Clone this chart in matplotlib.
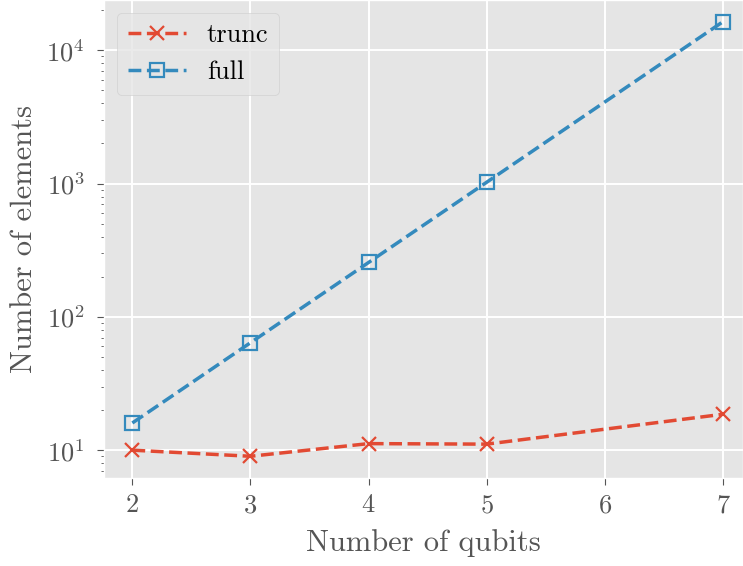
import matplotlib
matplotlib.use("Agg")
import matplotlib.pyplot as plt

qubits_trunc = [2, 3, 4, 5, 7]
elements_trunc = [10, 9, 11.2, 11.1, 18.6]
qubits_full = [2, 3, 4, 5, 7]
elements_full = [16, 64, 256, 1024, 16384]

plt.style.use("ggplot")
plt.rcParams["font.family"] = ["cmr10", "DejaVu Serif"]
plt.rcParams["mathtext.fontset"] = "cm"
plt.rcParams["axes.formatter.use_mathtext"] = True
plt.rcParams["grid.linewidth"] = 1.4

fig = plt.figure(figsize=(7.43, 5.66), dpi=100)
ax = fig.add_axes([104 / 743, 1 - 478 / 566, 1 - 104 / 743, 478 / 566])

ax.plot(qubits_trunc, elements_trunc, ls="--", lw=2.5, marker="x", ms=10,
        mew=1.6, color="#E24A33", label="trunc")
ax.plot(qubits_full, elements_full, ls="--", lw=2.5, marker="s", ms=10,
        mew=1.6, mfc="none", color="#348ABD", label="full")

ax.set_yscale("log")
ax.set_xlim(1.76, 7.17)
ax.set_xticks([2, 3, 4, 5, 6, 7])
ax.set_xlabel("Number of qubits", fontsize=22, labelpad=9)
ax.set_ylabel("Number of elements", fontsize=22, labelpad=6)
ax.tick_params(labelsize=19, length=5)
ax.tick_params(axis="x", pad=6)
ax.tick_params(axis="y", which="major", pad=9)
leg = ax.legend(loc="upper left", fontsize=19, handlelength=2.2)

fig.savefig("out.png", dpi=100)
